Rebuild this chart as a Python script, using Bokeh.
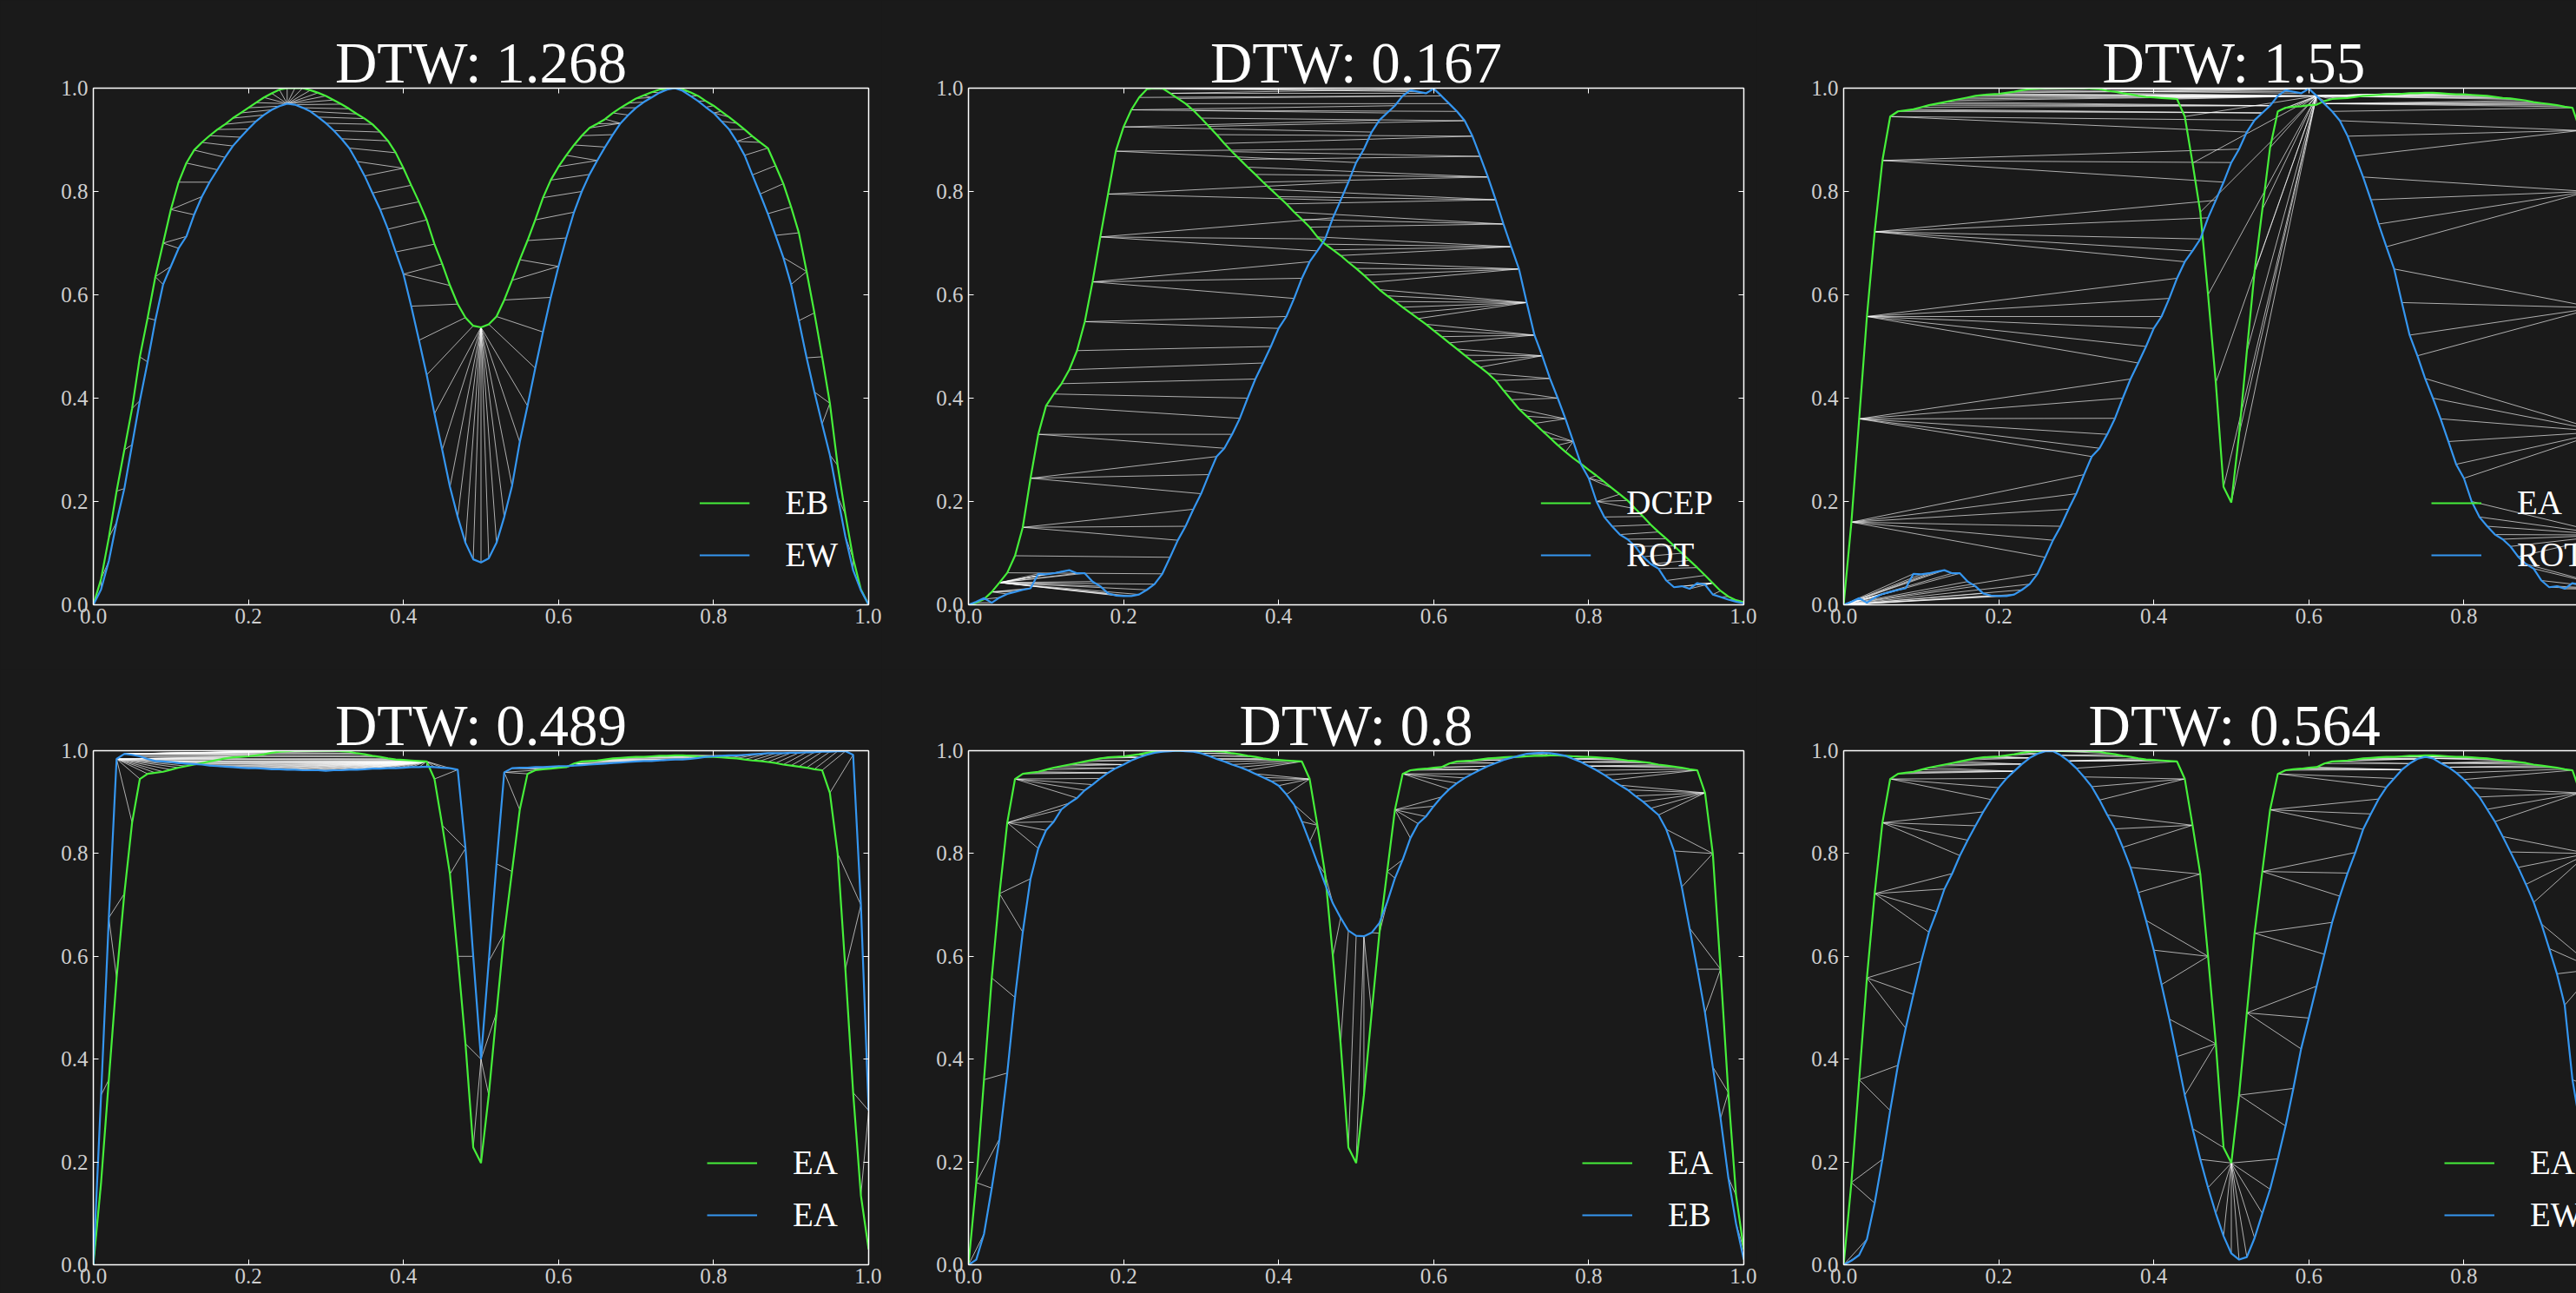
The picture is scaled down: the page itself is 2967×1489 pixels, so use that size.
import numpy as np
from bokeh.plotting import figure
from bokeh.models import (Range1d, LinearAxis, FixedTicker, Legend, LegendItem,
                          ColumnDataSource, PrintfTickFormatter, GlobalInlineStyleSheet)
from bokeh.layouts import row, column
from bokeh.embed import file_html
from bokeh.resources import INLINE

# ---------------- data ----------------
PHASE = [0.00, 0.01, 0.02, 0.03, 0.04, 0.05, 0.06, 0.07, 0.08, 0.09,
         0.10, 0.11, 0.12, 0.13, 0.14, 0.15, 0.16, 0.17, 0.18, 0.19,
         0.20, 0.21, 0.22, 0.23, 0.24, 0.25, 0.26, 0.27, 0.28, 0.29,
         0.30, 0.31, 0.32, 0.33, 0.34, 0.35, 0.36, 0.37, 0.38, 0.39,
         0.40, 0.41, 0.42, 0.43, 0.44, 0.45, 0.46, 0.47, 0.48, 0.49,
         0.50, 0.51, 0.52, 0.53, 0.54, 0.55, 0.56, 0.57, 0.58, 0.59,
         0.60, 0.61, 0.62, 0.63, 0.64, 0.65, 0.66, 0.67, 0.68, 0.69,
         0.70, 0.71, 0.72, 0.73, 0.74, 0.75, 0.76, 0.77, 0.78, 0.79,
         0.80, 0.81, 0.82, 0.83, 0.84, 0.85, 0.86, 0.87, 0.88, 0.89,
         0.90, 0.91, 0.92, 0.93, 0.94, 0.95, 0.96, 0.97, 0.98, 0.99,
         1.00]

EB1 = [0.000, 0.050, 0.130, 0.220, 0.300, 0.380, 0.480, 0.555, 0.635, 0.700,
       0.765, 0.818, 0.855, 0.880, 0.895, 0.908, 0.920, 0.930, 0.942, 0.952,
       0.962, 0.972, 0.982, 0.990, 0.997, 1.000, 1.000, 1.000, 0.996, 0.991,
       0.985, 0.977, 0.969, 0.960, 0.950, 0.941, 0.930, 0.915, 0.898, 0.875,
       0.845, 0.812, 0.780, 0.745, 0.698, 0.660, 0.618, 0.582, 0.556, 0.540,
       0.537, 0.543, 0.558, 0.590, 0.628, 0.668, 0.705, 0.745, 0.788, 0.822,
       0.848, 0.870, 0.890, 0.908, 0.923, 0.931, 0.940, 0.952, 0.962, 0.971,
       0.980, 0.986, 0.992, 0.997, 1.000, 1.000, 0.998, 0.992, 0.985, 0.975,
       0.966, 0.955, 0.944, 0.932, 0.920, 0.907, 0.895, 0.884, 0.850, 0.815,
       0.770, 0.720, 0.645, 0.565, 0.480, 0.390, 0.270, 0.175, 0.090, 0.030,
       0.000]

EW1 = [0.000, 0.030, 0.085, 0.160, 0.225, 0.310, 0.395, 0.470, 0.551, 0.620,
       0.655, 0.690, 0.713, 0.755, 0.790, 0.818, 0.842, 0.866, 0.888, 0.905,
       0.921, 0.936, 0.948, 0.958, 0.965, 0.970, 0.968, 0.962, 0.955, 0.944,
       0.932, 0.918, 0.902, 0.884, 0.858, 0.830, 0.797, 0.765, 0.727, 0.683,
       0.640, 0.578, 0.512, 0.445, 0.370, 0.300, 0.228, 0.170, 0.120, 0.088,
       0.082, 0.090, 0.120, 0.170, 0.230, 0.315, 0.385, 0.458, 0.528, 0.595,
       0.655, 0.710, 0.760, 0.800, 0.833, 0.860, 0.886, 0.910, 0.932, 0.948,
       0.962, 0.973, 0.982, 0.991, 0.997, 1.000, 0.995, 0.985, 0.975, 0.963,
       0.952, 0.936, 0.920, 0.897, 0.870, 0.832, 0.795, 0.757, 0.715, 0.672,
       0.620, 0.550, 0.478, 0.412, 0.350, 0.290, 0.210, 0.132, 0.067, 0.028,
       0.000]

DCEP = [0.000, 0.004, 0.011, 0.025, 0.043, 0.062, 0.095, 0.150, 0.245, 0.330,
        0.385, 0.408, 0.428, 0.455, 0.492, 0.548, 0.625, 0.712, 0.795, 0.878,
        0.925, 0.958, 0.982, 0.998, 1.000, 1.000, 0.990, 0.980, 0.970, 0.957,
        0.942, 0.926, 0.910, 0.893, 0.877, 0.862, 0.847, 0.833, 0.818, 0.804,
        0.790, 0.776, 0.760, 0.746, 0.731, 0.712, 0.698, 0.687, 0.676, 0.663,
        0.651, 0.638, 0.624, 0.610, 0.598, 0.587, 0.576, 0.565, 0.554, 0.543,
        0.531, 0.519, 0.507, 0.495, 0.483, 0.471, 0.460, 0.448, 0.434, 0.415,
        0.397, 0.379, 0.365, 0.351, 0.337, 0.323, 0.309, 0.296, 0.284, 0.273,
        0.261, 0.250, 0.238, 0.226, 0.214, 0.202, 0.186, 0.171, 0.155, 0.141,
        0.128, 0.114, 0.100, 0.086, 0.072, 0.057, 0.042, 0.027, 0.016, 0.009,
        0.005]

ROT = [0.000, 0.006, 0.013, 0.004, 0.014, 0.021, 0.025, 0.029, 0.032, 0.060,
       0.059, 0.061, 0.064, 0.067, 0.061, 0.061, 0.045, 0.036, 0.022, 0.018,
       0.017, 0.017, 0.020, 0.029, 0.040, 0.060, 0.092, 0.125, 0.152, 0.185,
       0.215, 0.252, 0.287, 0.303, 0.330, 0.361, 0.400, 0.437, 0.468, 0.500,
       0.535, 0.558, 0.593, 0.632, 0.664, 0.685, 0.708, 0.749, 0.783, 0.818,
       0.856, 0.882, 0.915, 0.938, 0.952, 0.966, 0.985, 0.996, 0.993, 0.990,
       0.999, 0.985, 0.970, 0.955, 0.937, 0.907, 0.868, 0.828, 0.784, 0.737,
       0.693, 0.650, 0.585, 0.522, 0.482, 0.438, 0.400, 0.360, 0.316, 0.272,
       0.245, 0.200, 0.170, 0.152, 0.136, 0.127, 0.113, 0.093, 0.079, 0.070,
       0.047, 0.034, 0.036, 0.031, 0.042, 0.039, 0.020, 0.015, 0.010, 0.006,
       0.003]

EA = [0.000, 0.160, 0.360, 0.558, 0.722, 0.860, 0.945, 0.955, 0.957, 0.959,
      0.963, 0.967, 0.970, 0.973, 0.976, 0.979, 0.982, 0.985, 0.987, 0.988,
      0.989, 0.991, 0.993, 0.996, 0.998, 0.999, 1.000, 1.000, 1.000, 1.000,
      1.000, 1.000, 0.999, 0.998, 0.995, 0.993, 0.990, 0.988, 0.985, 0.983,
      0.982, 0.981, 0.980, 0.979, 0.945, 0.855, 0.760, 0.600, 0.430, 0.228,
      0.198, 0.330, 0.490, 0.645, 0.765, 0.885, 0.955, 0.962, 0.964, 0.965,
      0.967, 0.968, 0.975, 0.979, 0.980, 0.981, 0.983, 0.985, 0.986, 0.987,
      0.988, 0.988, 0.989, 0.990, 0.990, 0.991, 0.991, 0.990, 0.989, 0.988,
      0.988, 0.987, 0.986, 0.985, 0.983, 0.981, 0.980, 0.978, 0.976, 0.973,
      0.971, 0.969, 0.967, 0.964, 0.962, 0.918, 0.800, 0.575, 0.335, 0.135,
      0.030]

EA2 = [0.000, 0.330, 0.675, 0.984, 0.994, 0.992, 0.989, 0.984, 0.980, 0.979,
       0.978, 0.976, 0.975, 0.974, 0.973, 0.971, 0.970, 0.969, 0.968, 0.967,
       0.966, 0.966, 0.965, 0.964, 0.964, 0.963, 0.963, 0.962, 0.962, 0.962,
       0.961, 0.962, 0.962, 0.963, 0.963, 0.964, 0.965, 0.965, 0.966, 0.966,
       0.967, 0.968, 0.968, 0.969, 0.968, 0.967, 0.966, 0.963, 0.810, 0.600,
       0.400, 0.590, 0.780, 0.958, 0.966, 0.967, 0.967, 0.968, 0.968, 0.969,
       0.970, 0.970, 0.971, 0.972, 0.973, 0.974, 0.975, 0.976, 0.977, 0.978,
       0.979, 0.980, 0.980, 0.981, 0.982, 0.983, 0.983, 0.984, 0.986, 0.988,
       0.989, 0.990, 0.991, 0.991, 0.992, 0.993, 0.994, 0.995, 0.995, 0.995,
       0.996, 0.996, 0.997, 0.997, 0.998, 0.998, 0.999, 0.999, 0.992, 0.700,
       0.300]

EB2 = [0.000, 0.010, 0.060, 0.149, 0.245, 0.373, 0.520, 0.647, 0.751, 0.810,
       0.845, 0.862, 0.886, 0.898, 0.908, 0.923, 0.934, 0.946, 0.957, 0.966,
       0.973, 0.981, 0.987, 0.992, 0.996, 0.998, 0.999, 1.000, 0.999, 0.998,
       0.995, 0.990, 0.984, 0.979, 0.973, 0.968, 0.962, 0.955, 0.948, 0.941,
       0.932, 0.915, 0.895, 0.862, 0.823, 0.782, 0.740, 0.703, 0.675, 0.650,
       0.640, 0.639, 0.646, 0.665, 0.705, 0.752, 0.788, 0.830, 0.858, 0.872,
       0.892, 0.910, 0.925, 0.937, 0.947, 0.955, 0.963, 0.970, 0.976, 0.982,
       0.986, 0.990, 0.994, 0.995, 0.996, 0.995, 0.993, 0.990, 0.984, 0.978,
       0.970, 0.962, 0.953, 0.943, 0.933, 0.924, 0.912, 0.901, 0.888, 0.875,
       0.847, 0.805, 0.735, 0.655, 0.575, 0.490, 0.385, 0.285, 0.170, 0.080,
       0.010]

EW2 = [0.000, 0.008, 0.019, 0.050, 0.120, 0.205, 0.300, 0.388, 0.460, 0.526,
       0.590, 0.647, 0.687, 0.731, 0.761, 0.796, 0.826, 0.854, 0.881, 0.905,
       0.928, 0.946, 0.960, 0.974, 0.986, 0.994, 0.999, 0.999, 0.991, 0.980,
       0.966, 0.949, 0.930, 0.904, 0.875, 0.848, 0.812, 0.773, 0.724, 0.670,
       0.612, 0.545, 0.478, 0.405, 0.330, 0.265, 0.205, 0.150, 0.100, 0.056,
       0.022, 0.010, 0.015, 0.052, 0.100, 0.147, 0.206, 0.270, 0.343, 0.420,
       0.480, 0.542, 0.604, 0.666, 0.717, 0.762, 0.802, 0.847, 0.877, 0.906,
       0.929, 0.946, 0.963, 0.975, 0.984, 0.988, 0.985, 0.976, 0.968, 0.957,
       0.944, 0.928, 0.910, 0.886, 0.862, 0.833, 0.803, 0.773, 0.740, 0.705,
       0.663, 0.615, 0.566, 0.505, 0.360, 0.270, 0.190, 0.120, 0.060, 0.020,
       0.000]

DTW_SCORES = ["1.268", "0.167", "1.55", "0.489", "0.8", "0.564"]
LABELS_1 = ["EB", "DCEP", "EA", "EA", "EA", "EA"]
LABELS_2 = ["EW", "ROT", "ROT", "EA", "EB", "EW"]
SERIES_1 = [EB1, DCEP, EA, EA, EA, EA]
SERIES_2 = [EW1, ROT, ROT, EA2, EB2, EW2]
TICKS = [0.0, 0.2, 0.4, 0.6, 0.8, 1.0]

# ---------------- style / layout ----------------
BG = "#1a1a1a"
GREEN = "#46ef3a"
BLUE = "#3596f0"
FONT = "Liberation Serif"
TICK_COLOR = "#cfcfcf"

FRAME_W = 893
FRAME_W_LAST = 844
BORDER_LEFT = [107, 100, 100]
BORDER_RIGHT = [15, 15, 0]
FRAME_H = [595, 592]
BORDER_TOP = [101, 93]
BORDER_BOTTOM = [75, 33]
LEGEND_X_LAST = {2: 642, 5: 657}
TITLE_LEFT_LAST = {2: 298, 5: 282}


def dtw_path(a, b):
    a = np.asarray(a, dtype=float)
    b = np.asarray(b, dtype=float)
    n, m = len(a), len(b)
    cost = np.abs(a[:, None] - b[None, :])
    D = np.full((n + 1, m + 1), np.inf)
    D[0, 0] = 0.0
    for i in range(1, n + 1):
        for j in range(1, m + 1):
            D[i, j] = cost[i - 1, j - 1] + min(D[i - 1, j - 1], D[i - 1, j], D[i, j - 1])
    i, j = n, m
    path = []
    while True:
        path.append((i - 1, j - 1))
        if i == 1 and j == 1:
            break
        choices = [(D[i - 1, j - 1], i - 1, j - 1), (D[i - 1, j], i - 1, j), (D[i, j - 1], i, j - 1)]
        _, i, j = min(choices, key=lambda t: t[0])
    return path[::-1]


def style_axis(ax, labels, standoff=0):
    ax.ticker = FixedTicker(ticks=TICKS)
    ax.formatter = PrintfTickFormatter(format="%.1f")
    ax.axis_line_color = "white"
    ax.axis_line_width = 1.5
    ax.major_tick_in = 6
    ax.major_tick_out = 0
    ax.major_tick_line_color = "white"
    ax.major_tick_line_width = 1
    ax.minor_tick_line_color = None
    ax.major_label_text_font = FONT
    ax.major_label_standoff = standoff
    if labels:
        ax.major_label_text_color = TICK_COLOR
        ax.major_label_text_font_size = "25px"
    else:
        ax.major_label_text_color = None
        ax.major_label_text_alpha = 0
        ax.major_label_text_font_size = "1px"


def make_panel(k):
    col, rw = k % 3, k // 3
    last = col == 2
    fw = FRAME_W_LAST if last else FRAME_W
    fh = FRAME_H[rw]
    bl, br = BORDER_LEFT[col], BORDER_RIGHT[col]
    bt, bb = BORDER_TOP[rw], BORDER_BOTTOM[rw]
    s1, s2 = SERIES_1[k], SERIES_2[k]

    p = figure(width=bl + fw + br, height=bt + fh + bb,
               x_range=Range1d(0, fw / FRAME_W), y_range=Range1d(0, 1),
               output_backend="svg", toolbar_location=None,
               min_border_left=bl, min_border_right=br,
               min_border_top=bt, min_border_bottom=bb,
               background_fill_color=BG, border_fill_color=BG,
               outline_line_color=None, title="DTW: " + DTW_SCORES[k])
    p.grid.visible = False

    p.title.text_font = FONT
    p.title.text_font_size = "67px"
    p.title.text_font_style = "normal"
    p.title.text_color = "white"
    p.title.standoff = -15
    if last:
        p.title.align = "left"
        p.title.offset = TITLE_LEFT_LAST[k]
    else:
        p.title.align = "center"

    style_axis(p.xaxis[0], True, 4)
    style_axis(p.yaxis[0], True, 6)
    top_ax = LinearAxis()
    style_axis(top_ax, False)
    p.add_layout(top_ax, "above")
    if not last:
        right_ax = LinearAxis()
        style_axis(right_ax, False)
        p.add_layout(right_ax, "right")

    path = dtw_path(s1, s2)
    src = ColumnDataSource(dict(
        x0=[PHASE[i] for i, j in path], y0=[s1[i] for i, j in path],
        x1=[PHASE[j] for i, j in path], y1=[s2[j] for i, j in path]))
    p.segment(x0="x0", y0="y0", x1="x1", y1="y1", source=src,
              line_color="white", line_alpha=0.65, line_width=1)

    r1 = p.line(PHASE, s1, line_color=GREEN, line_width=2.2)
    r2 = p.line(PHASE, s2, line_color=BLUE, line_width=2.2)

    leg = Legend(items=[LegendItem(label=LABELS_1[k], renderers=[r1]),
                        LegendItem(label=LABELS_2[k], renderers=[r2])],
                 location=(LEGEND_X_LAST[k], 0) if last else "bottom_right",
                 background_fill_alpha=0, border_line_alpha=0,
                 label_text_font=FONT, label_text_font_size="39px",
                 label_text_color="white", glyph_width=58, glyph_height=40,
                 label_standoff=41, spacing=15, padding=35, margin=0)
    p.add_layout(leg, "center")
    return p


figs = [make_panel(k) for k in range(6)]
layout = column(row(*figs[:3]), row(*figs[3:]))
layout.stylesheets = [GlobalInlineStyleSheet(css="html, body { background-color: #1a1a1a; }")]

open("out.html", "w").write(file_html(layout, INLINE, title="DTW"))
